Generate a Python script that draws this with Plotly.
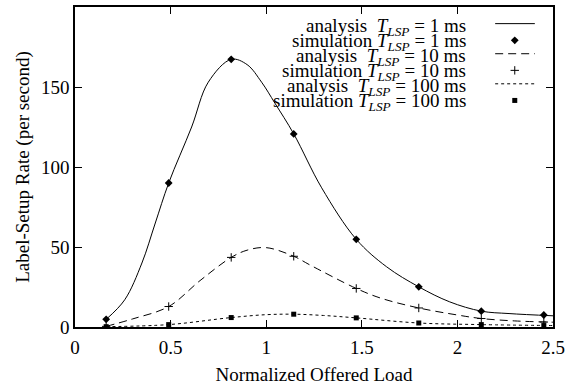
import plotly.graph_objects as go

# ---- data ----
sim_x = [0.163, 0.49, 0.817, 1.144, 1.471, 1.798, 2.125, 2.452]
sim_t1 = [4.8, 90, 167.3, 120.7, 54.8, 25.1, 9.9, 7.5]
sim_t10 = [0.4, 12.8, 43.5, 44.2, 24.1, 11.9, 5.3, 3.1]
sim_t100 = [0.2, 1.5, 5.9, 8.0, 5.7, 2.5, 1.5, 0.9]

an1_x = [0.163, 0.26, 0.35, 0.42, 0.49, 0.61, 0.697, 0.817, 0.9, 0.976, 1.045, 1.144,
         1.29, 1.471, 1.63, 1.798, 1.96, 2.125, 2.27, 2.5]
an1_y = [4.8, 17, 40, 65, 90, 125, 153, 167.3, 164, 153, 140, 120.7,
         87, 54.8, 37.6, 25.1, 15.7, 9.9, 8.4, 7.0]

an10_x = [0.163, 0.3, 0.49, 0.654, 0.817, 0.9, 1.0, 1.144, 1.23, 1.471, 1.6, 1.798,
          2.0, 2.125, 2.3, 2.5]
an10_y = [0.4, 5, 12.8, 29, 43.5, 48, 49.6, 44.2, 38.7, 24.1, 18, 11.9,
          7.5, 5.3, 3.8, 3.0]

an100_x = [0.163, 0.49, 0.817, 1.0, 1.144, 1.3, 1.471, 1.798, 2.125, 2.5]
an100_y = [0.2, 1.5, 5.9, 7.7, 8.0, 7.2, 5.7, 2.5, 1.5, 0.9]

x_ticks = [0, 0.5, 1, 1.5, 2, 2.5]
x_tick_text = ["0", "0.5", "1", "1.5", "2", "2.5"]
y_ticks = [0, 50, 100, 150, 200]

legend_labels = [
    "analysis  <i>T</i><sub><i>LSP</i></sub> = 1 ms",
    "simulation <i>T</i><sub><i>LSP</i></sub> = 1 ms",
    "analysis  <i>T</i><sub><i>LSP</i></sub> = 10 ms",
    "simulation <i>T</i><sub><i>LSP</i></sub> = 10 ms",
    "analysis  <i>T</i><sub><i>LSP</i></sub> = 100 ms",
    "simulation <i>T</i><sub><i>LSP</i></sub> = 100 ms",
]

FONT = "Liberation Serif"
BLACK = "black"

fig = go.Figure()

line_styles = ["solid", "8px,5px", "3px,3px"]
analysis = [(an1_x, an1_y), (an10_x, an10_y), (an100_x, an100_y)]
sims = [sim_t1, sim_t10, sim_t100]
markers = [
    dict(symbol="diamond", size=6, color=BLACK),
    dict(symbol="cross-thin", size=6, color=BLACK, line=dict(color=BLACK, width=1)),
    dict(symbol="square", size=5, color=BLACK),
]

for (ax, ay), dash in zip(analysis, line_styles):
    fig.add_trace(go.Scatter(x=ax, y=ay, mode="lines",
                             line=dict(color=BLACK, width=1, dash=dash, shape="spline", smoothing=1.0),
                             showlegend=False, hoverinfo="skip"))
for sy, mk in zip(sims, markers):
    fig.add_trace(go.Scatter(x=sim_x, y=sy, mode="markers", marker=mk,
                             showlegend=False, hoverinfo="skip"))

# ---- custom legend (gnuplot style: text right, sample on right) ----
row_y = [0.938, 0.891, 0.844, 0.797, 0.750, 0.703]
sample_x0, sample_x1, sample_xm = 0.879, 0.962, 0.920
for i, lbl in enumerate(legend_labels):
    fig.add_annotation(x=0.822, y=row_y[i], xref="paper", yref="paper",
                       text=lbl, showarrow=False, xanchor="right", yanchor="middle",
                       font=dict(family=FONT, size=19, color=BLACK))
for k in range(3):
    yl = row_y[2 * k] + 0.01
    fig.add_trace(go.Scatter(x=[sample_x0, sample_x1], y=[yl, yl], mode="lines",
                             xaxis="x2", yaxis="y2",
                             line=dict(color=BLACK, width=1, dash=line_styles[k]),
                             showlegend=False, hoverinfo="skip"))
    ym = row_y[2 * k + 1] + 0.005
    fig.add_trace(go.Scatter(x=[sample_xm], y=[ym], mode="markers",
                             xaxis="x2", yaxis="y2", marker=markers[k],
                             showlegend=False, hoverinfo="skip"))

fig.update_layout(
    width=583, height=385,
    margin=dict(l=75, r=30, t=7, b=58, autoexpand=False),
    paper_bgcolor="white", plot_bgcolor="white",
    font=dict(family=FONT, size=19, color=BLACK),
    showlegend=False,
    xaxis=dict(range=[0, 2.5], tickvals=x_ticks, ticktext=x_tick_text,
               ticks="inside", ticklen=7, tickcolor=BLACK, tickwidth=1,
               showline=True, linecolor=BLACK, linewidth=1.5, mirror="ticks",
               showgrid=False, zeroline=False, ticklabelstandoff=2, automargin=False,
               title=dict(text="Normalized Offered Load", standoff=13,
                          font=dict(family=FONT, size=19, color=BLACK)),
               tickfont=dict(family=FONT, size=19, color=BLACK)),
    yaxis=dict(range=[0, 200], tickvals=y_ticks,
               ticks="inside", ticklen=7, tickcolor=BLACK, tickwidth=1,
               showline=True, linecolor=BLACK, linewidth=1.5, mirror="ticks",
               showgrid=False, zeroline=False, automargin=False,
               title=dict(text="Label-Setup Rate (per second)", standoff=6,
                          font=dict(family=FONT, size=19, color=BLACK)),
               tickfont=dict(family=FONT, size=19, color=BLACK)),
    xaxis2=dict(range=[0, 1], overlaying="x", visible=False, domain=[0, 1]),
    yaxis2=dict(range=[0, 1], overlaying="y", visible=False),
)

fig.write_html("out.html")
